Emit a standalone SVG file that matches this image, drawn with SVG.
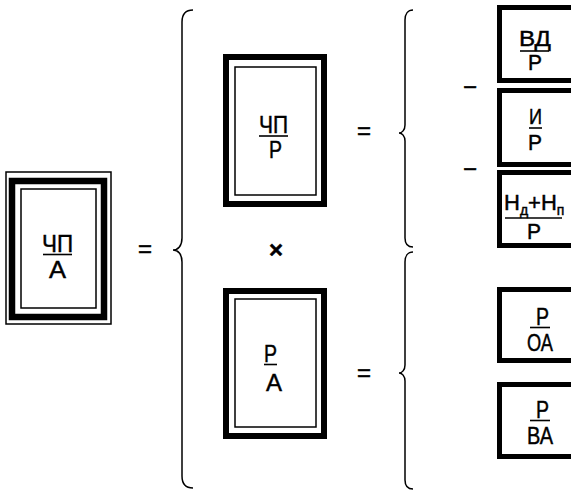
<svg xmlns="http://www.w3.org/2000/svg" width="571" height="493" viewBox="0 0 571 493">
<style>
.t{font-family:"Liberation Sans",Arial,sans-serif;font-size:24px;fill:#000;stroke:#000;stroke-width:0.45}
.m{font-size:22px}
.s{font-size:21px}
.op{font-family:"Liberation Sans",Arial,sans-serif;font-size:24px;fill:#000;stroke:#000;stroke-width:0.5;text-anchor:middle}
.thin{fill:none;stroke:#000;stroke-width:1.5}
.thick{fill:none;stroke:#000;stroke-width:6}
.rthick{fill:none;stroke:#000;stroke-width:5}
.bar{stroke:#000;stroke-width:1.6}
.brace{fill:none;stroke:#000;stroke-width:1.5}
</style>
<rect width="571" height="493" fill="#fff"/>

<g id="connectors">
<path class="brace" d="M193,10 C186,10 182,14 182,22 L182,238 C182,246 178,250 173,250 C178,250 182,254 182,262 L182,476 C182,484 186,488 193,488"/>
<path class="brace" d="M413,10 C408,10 405,14 405,20 L405,125 C405,130 402,133 399,133 C402,133 405,136 405,141 L405,238 C405,244 408,247 413,247"/>
<path class="brace" d="M413,252 C408,252 405,256 405,262 L405,365 C405,370 402,373 399,373 C402,373 405,376 405,381 L405,480 C405,486 408,489 413,489"/>
</g>

<g id="node-chp-a">
<rect class="thin" x="6" y="172" width="105" height="152"/>
<rect class="thick" x="12" y="181" width="92" height="136" style="stroke-width:6.5"/>
<rect class="thin" x="21" y="189" width="75" height="119"/>
<text class="t" x="42" y="252" textLength="31" lengthAdjust="spacingAndGlyphs">ЧП</text>
<line class="bar" x1="43" y1="254.5" x2="72" y2="254.5"/>
<text class="t" x="49" y="278" textLength="17" lengthAdjust="spacingAndGlyphs">А</text>
</g>

<text class="op" x="145" y="257">=</text>

<g id="node-chp-p">
<rect class="thick" x="226" y="57" width="98" height="147"/>
<rect class="thin" x="235" y="67" width="81" height="128"/>
<text class="t" x="259" y="133" textLength="29" lengthAdjust="spacingAndGlyphs">ЧП</text>
<line class="bar" x1="259" y1="136" x2="288" y2="136"/>
<text class="t" x="269" y="158" textLength="13" lengthAdjust="spacingAndGlyphs">Р</text>
</g>

<text class="op" x="276" y="258" style="font-weight:bold">×</text>

<g id="node-p-a">
<rect class="thick" x="226" y="291" width="98" height="145"/>
<rect class="thin" x="235" y="299" width="81" height="128"/>
<text class="t" x="264" y="362" textLength="13" lengthAdjust="spacingAndGlyphs">Р</text>
<line class="bar" x1="264" y1="364.5" x2="277" y2="364.5"/>
<text class="t" x="266" y="391" textLength="16" lengthAdjust="spacingAndGlyphs">А</text>
</g>

<text class="op" x="364" y="139">=</text>
<text class="op" x="364" y="381">=</text>

<text class="op" x="470" y="95">−</text>
<text class="op" x="470" y="177">−</text>

<g id="node-vd-p">
<rect class="rthick" x="499.5" y="7.5" width="100" height="73"/>
<text class="t m" x="519" y="46" textLength="32" lengthAdjust="spacingAndGlyphs">ВД</text>
<line class="bar" x1="520" y1="51" x2="549" y2="51"/>
<text class="t m" x="528" y="70" textLength="14" lengthAdjust="spacingAndGlyphs">Р</text>
</g>

<g id="node-i-p">
<rect class="rthick" x="499.5" y="90.5" width="100" height="74"/>
<text class="t m" x="529" y="124" textLength="13" lengthAdjust="spacingAndGlyphs">И</text>
<line class="bar" x1="529" y1="128" x2="542" y2="128"/>
<text class="t m" x="528" y="150" textLength="14" lengthAdjust="spacingAndGlyphs">Р</text>
</g>

<g id="node-n-p">
<rect class="rthick" x="499.5" y="172.5" width="100" height="73"/>
<text class="t m" x="504" y="210">Н<tspan dy="5" style="font-size:14px">д</tspan><tspan dy="-5">+Н</tspan><tspan dy="5" style="font-size:14px">п</tspan></text>
<line class="bar" x1="505" y1="218" x2="562" y2="218"/>
<text class="t m" x="527" y="239" textLength="14" lengthAdjust="spacingAndGlyphs">Р</text>
</g>

<g id="node-p-oa">
<rect class="rthick" x="499.5" y="289.5" width="100" height="71"/>
<text class="t" x="536" y="325" textLength="13" lengthAdjust="spacingAndGlyphs">Р</text>
<line class="bar" x1="530" y1="327.5" x2="550" y2="327.5"/>
<text class="t" x="527" y="351" textLength="26" lengthAdjust="spacingAndGlyphs">ОА</text>
</g>

<g id="node-p-va">
<rect class="rthick" x="499.5" y="384.5" width="100" height="72"/>
<text class="t" x="536" y="418" textLength="13" lengthAdjust="spacingAndGlyphs">Р</text>
<line class="bar" x1="530" y1="420.5" x2="550" y2="420.5"/>
<text class="t" x="527" y="444" textLength="26" lengthAdjust="spacingAndGlyphs">ВА</text>
</g>
</svg>
